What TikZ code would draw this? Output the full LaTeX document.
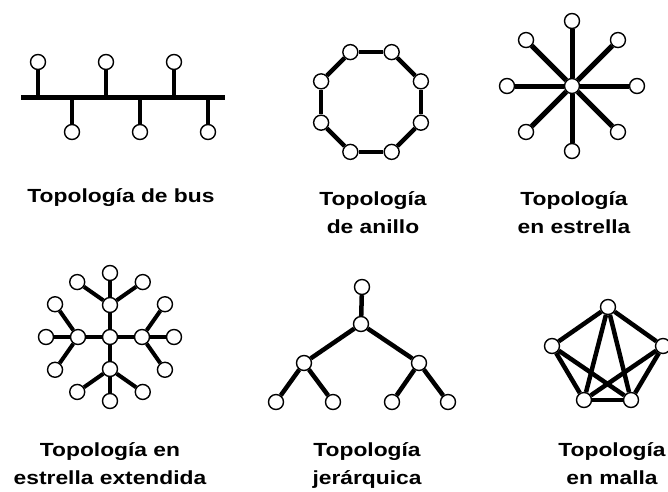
\documentclass[tikz,border=0pt]{standalone}
\usepackage{fontspec}
\setmainfont{Liberation Sans}[FakeStretch=1.2]
\usetikzlibrary{positioning, backgrounds}

\begin{document}
\begin{tikzpicture}[x=1pt, y=-1pt, font=\bfseries\fontsize{19}{28}\selectfont]
    \tikzstyle{host} = [circle, draw=black, line width=1.4pt, fill=white, minimum size=15pt, inner sep=0pt]
    \tikzstyle{link} = [line width=4.5pt]
    \tikzstyle{title} = [align=center, anchor=base, inner sep=0pt]

    \useasboundingbox (0,0) rectangle (668,491);

    % Bus
    \coordinate (busL) at (21,97);
    \coordinate (busR) at (225,97);
    \node (bu1) [host] at (38,62) {};
    \node (bu2) [host] at (106,62) {};
    \node (bu3) [host] at (174,62) {};
    \node (bd1) [host] at (72,132) {};
    \node (bd2) [host] at (140,132) {};
    \node (bd3) [host] at (208,132) {};

    % Ring
    \foreach \i in {1,...,8}
        \node (r\i) [host] at ([shift={({22.5+45*\i}:54)}]371,102) {};

    % Star
    \node (hub) [host] at (572,86) {};
    \foreach \i in {1,...,8}
        \node (s\i) [host] at ([shift={({45*\i}:65)}]572,86) {};

    % Extended star
    \node (e0) [host] at (110,337) {};
    \foreach \a [count=\k] in {0,90,180,270} {
        \node (e\k) [host] at ([shift={(\a:32)}]110,337) {};
        \node (e\k-o) [host] at ([shift={(\a:64)}]110,337) {};
        \node (e\k-l) [host] at ([shift={(\a:32)}, shift={({\a+55}:40)}]110,337) {};
        \node (e\k-r) [host] at ([shift={(\a:32)}, shift={({\a-55}:40)}]110,337) {};
    }

    % Hierarchy
    \node (h0) [host] at (362,287) {};
    \node (h1) [host] at (361,324) {};
    \node (h2) [host] at (304,363) {};
    \node (h3) [host] at (419,363) {};
    \node (h4) [host] at (276,402) {};
    \node (h5) [host] at (333,402) {};
    \node (h6) [host] at (392,402) {};
    \node (h7) [host] at (448,402) {};

    % Mesh
    \node (m1) [host] at (608,307) {};
    \node (m2) [host] at (663,346) {};
    \node (m3) [host] at (631,400) {};
    \node (m4) [host] at (584,400) {};
    \node (m5) [host] at (552,346) {};

    % Connections
    \begin{pgfonlayer}{background}
        \draw [link, line width=5pt] (busL) -- (busR);
        \foreach \n in {bu1,bu2,bu3,bd1,bd2,bd3}
            \draw [link, line width=4pt] (\n) -- (\n |- busL);
        \foreach \i [remember=\i as \j (initially 8)] in {1,...,8}
            \draw [link] (r\j) -- (r\i);
        \foreach \i in {1,...,8}
            \draw [link, line width=5pt] (hub) -- (s\i);
        \foreach \k in {1,...,4} {
            \draw [link, line width=4pt] (e0) -- (e\k);
            \draw [link, line width=4pt] (e\k) -- (e\k-o);
            \draw [link, line width=4pt] (e\k) -- (e\k-l);
            \draw [link, line width=4pt] (e\k) -- (e\k-r);
        }
        \draw [link] (h0) -- (h1);
        \draw [link] (h1) -- (h2);
        \draw [link] (h1) -- (h3);
        \draw [link] (h2) -- (h4);
        \draw [link] (h2) -- (h5);
        \draw [link] (h3) -- (h6);
        \draw [link] (h3) -- (h7);
        \foreach \i/\j in {1/2,1/3,1/4,1/5,2/3,2/4,3/4,3/5,4/5}
            \draw [link] (m\i) -- (m\j);
    \end{pgfonlayer}

    % Labels
    \node (lbus) [title] at (121,202) {Topología de bus};
    \node (lring) [title] at (373,233) {Topología\\de anillo};
    \node (lstar) [title] at (574,233) {Topología\\en estrella};
    \node (lext) [title] at (110,484) {Topología en\\estrella extendida};
    \node (ltree) [title] at (367,484) {Topología\\jerárquica};
    \node (lmesh) [title] at (612,484) {Topología\\en malla};
\end{tikzpicture}
\end{document}
